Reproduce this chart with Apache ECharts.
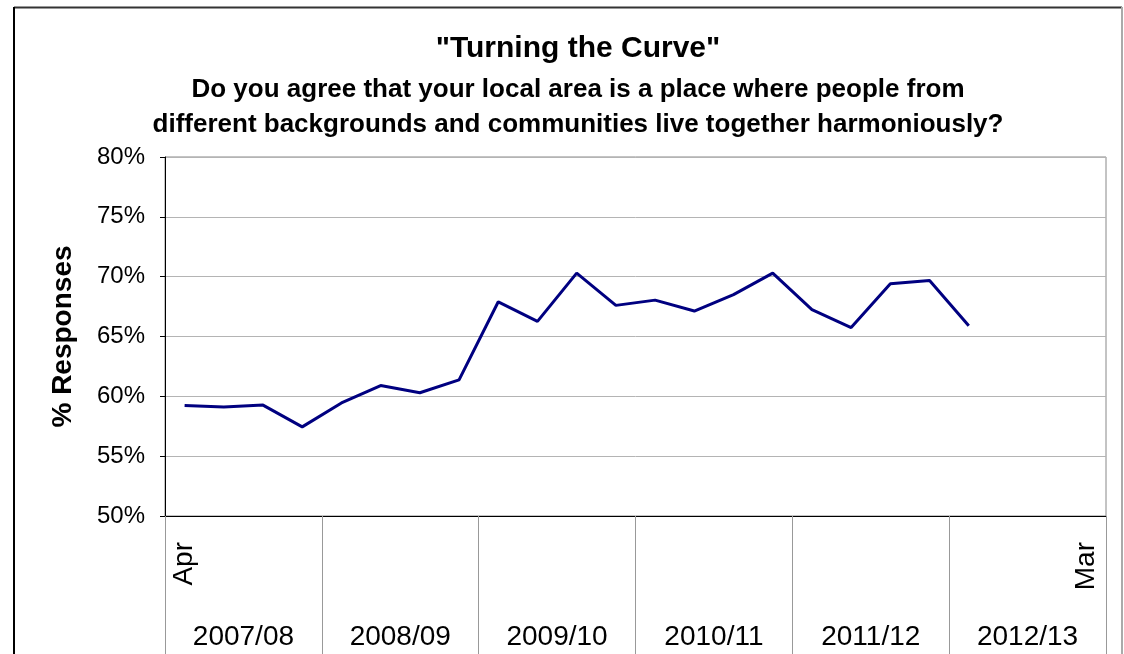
<!DOCTYPE html>
<html>
<head>
<meta charset="utf-8">
<script src="https://cdn.jsdelivr.net/npm/echarts@6/dist/echarts.min.js"></script>
<style>
html,body{margin:0;padding:0;background:#fff;}
#chart{width:1124px;height:654px;}
</style>
</head>
<body>
<div id="chart"></div>
<script>
var titleText = '"Turning the Curve"';
var subtitleText = 'Do you agree that your local area is a place where people from\ndifferent backgrounds and communities live together harmoniously?';
var yAxisName = '% Responses';
var quarters = ['Apr','Q2','Q3','Q4','Q1','Q2','Q3','Q4','Q1','Q2','Q3','Q4','Q1','Q2','Q3','Q4','Q1','Q2','Q3','Q4','Q1','Q2','Q3','Mar'];
var shownQuarterLabels = ['Apr','Mar'];
var years = ['2007/08','2008/09','2009/10','2010/11','2011/12','2012/13'];
var responses = [59.24, 59.1, 59.27, 57.45, 59.45, 60.9, 60.3, 61.38, 67.9, 66.26, 70.3, 67.6, 68.04, 67.13, 68.5, 70.3, 67.25, 65.75, 69.4, 69.68, 65.9, null, null, null];
var yMin = 50, yMax = 80, yStep = 5;

var FONT = 'Liberation Sans, Arial, sans-serif';
var chart = echarts.init(document.getElementById('chart'));
var gridPos = {left: 165, right: 18, top: 157, bottom: 138};
chart.setOption({
  backgroundColor: '#fff',
  animation: false,
  title: [
    {text: titleText, left: 573, top: 29, textAlign: 'center',
     textStyle: {fontFamily: FONT, fontWeight: 'bold', fontSize: 30, color: '#000'}},
    {text: subtitleText, left: 573, top: 67, textAlign: 'center',
     textStyle: {fontFamily: FONT, fontWeight: 'bold', fontSize: 26, lineHeight: 35, color: '#000'}}
  ],
  graphic: [
    {type: 'line', shape: {x1: 14, y1: 7.5, x2: 1122, y2: 7.5}, style: {stroke: '#333', lineWidth: 2}, silent: true},
    {type: 'line', shape: {x1: 14, y1: 7, x2: 14, y2: 654}, style: {stroke: '#000', lineWidth: 2}, silent: true},
    {type: 'line', shape: {x1: 1122, y1: 7, x2: 1122, y2: 654}, style: {stroke: '#aaa', lineWidth: 2}, silent: true}
  ],
  grid: [
    Object.assign({show: true, borderColor: '#888', borderWidth: 1, backgroundColor: 'transparent'}, gridPos),
    Object.assign({show: false}, gridPos)
  ],
  xAxis: [
    {type: 'category', gridIndex: 0, data: quarters, boundaryGap: true,
     axisLine: {lineStyle: {color: '#000', width: 1}},
     axisTick: {show: false},
     axisLabel: {rotate: 90, margin: 26, fontFamily: FONT, fontSize: 28, color: '#000',
       interval: 0,
       formatter: function (v) { return shownQuarterLabels.indexOf(v) >= 0 ? v : ''; }},
     splitLine: {show: false}},
    {type: 'category', gridIndex: 1, data: years, boundaryGap: true, position: 'bottom',
     axisLine: {show: false},
     axisTick: {show: true, length: 140, lineStyle: {color: '#999', width: 1}},
     axisLabel: {margin: 107, fontFamily: FONT, fontSize: 28, color: '#000', interval: 0},
     splitLine: {show: false}}
  ],
  yAxis: [
    {type: 'value', gridIndex: 0, min: yMin, max: yMax, interval: yStep,
     name: yAxisName, nameLocation: 'middle', nameRotate: 90, nameGap: 88,
     nameTextStyle: {fontFamily: FONT, fontWeight: 'bold', fontSize: 28, color: '#000'},
     axisLine: {show: true, lineStyle: {color: '#000', width: 1}},
     axisTick: {show: true, inside: false, length: 5, lineStyle: {color: '#000'}},
     axisLabel: {margin: 20, fontFamily: FONT, fontSize: 24, color: '#000', formatter: '{value}%'},
     splitLine: {show: true, lineStyle: {color: '#b4b4b4', width: 1}}},
    {type: 'value', gridIndex: 1, min: 0, max: 1, show: false}
  ],
  series: [
    {type: 'line', xAxisIndex: 0, yAxisIndex: 0, data: responses, showSymbol: false, symbol: 'none',
     connectNulls: false, lineStyle: {color: '#000080', width: 3}, itemStyle: {color: '#000080'}}
  ]
});
</script>
</body>
</html>
